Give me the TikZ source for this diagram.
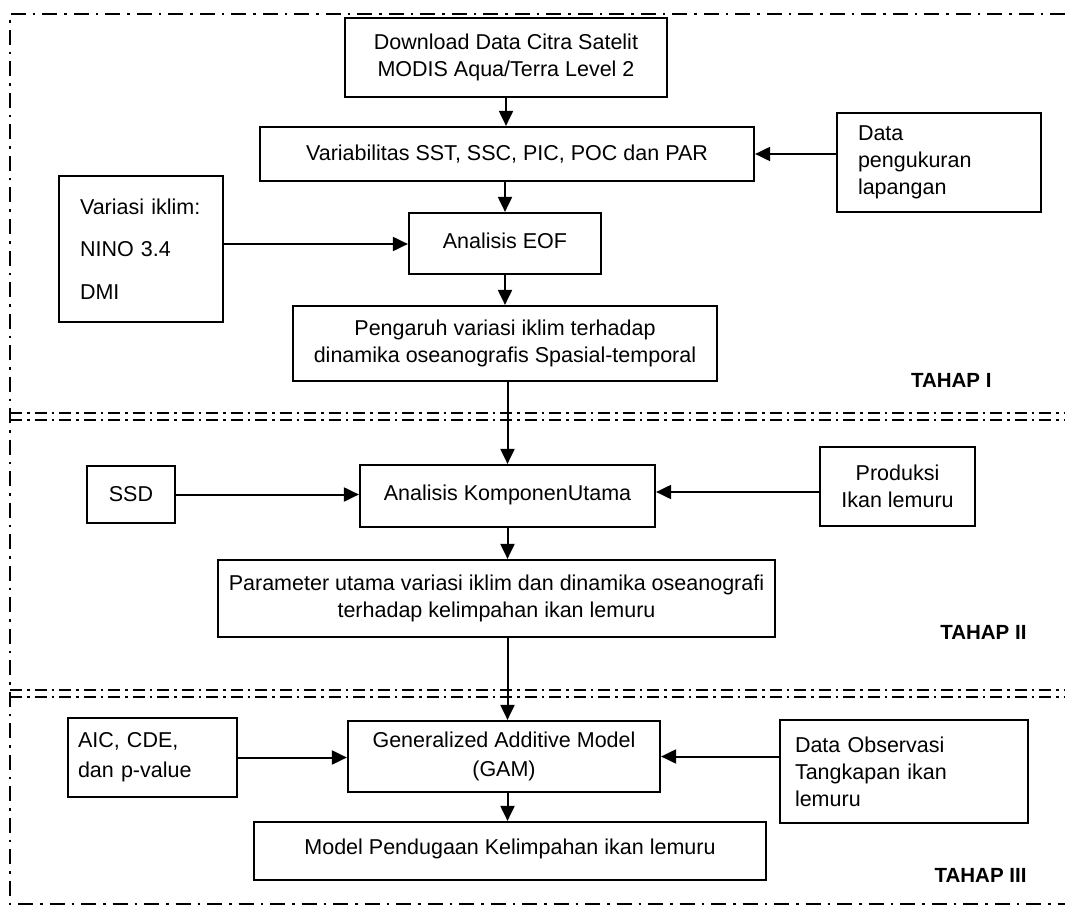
\documentclass[tikz,border=0pt]{standalone}
\usepackage{fontspec}
\setmainfont{Liberation Sans}
\usetikzlibrary{arrows.meta}
\begin{document}
\begin{tikzpicture}[x=1pt,y=-1pt,
  box/.style={draw, line width=2.2pt, rectangle, inner sep=0pt, font=\fontsize{21.5}{27}\selectfont, align=center},
  arr/.style={line width=2pt, -{Triangle[length=15pt,width=14pt]}},
  borderline/.style={line width=2pt, dash pattern=on 15pt off 7pt on 2.5pt off 7pt},
  sepline/.style={line width=1.8pt, dash pattern=on 12pt off 5pt on 2.5pt off 5pt},
  tahap/.style={font=\fontsize{20.5}{24}\selectfont\bfseries}]
\useasboundingbox (0,0) rectangle (1065,912);

% frame and separators
\coordinate (fTL) at (10,14);
\coordinate (fBL) at (10,904);
\coordinate (fTR) at (1065,14);
\coordinate (fBR) at (1065,904);
\draw[borderline] (fTR) -- (fTL) -- (fBL) -- (fBR);
\coordinate (s1a) at (10,413); \coordinate (s1b) at (1065,413);
\coordinate (s1c) at (10,420); \coordinate (s1d) at (1065,420);
\coordinate (s2a) at (10,690); \coordinate (s2b) at (1065,690);
\coordinate (s2c) at (10,697); \coordinate (s2d) at (1065,697);
\draw[sepline] (s1a) -- (s1b);
\draw[sepline] (s1c) -- (s1d);
\draw[sepline] (s2a) -- (s2b);
\draw[sepline] (s2c) -- (s2d);

% TAHAP I
\node[box, minimum width=322pt, minimum height=79pt] (dl) at (506,57.5) {\raisebox{2pt}{\begin{tabular}{@{}c@{}}Download Data Citra Satelit\\MODIS Aqua/Terra Level 2\end{tabular}}};
\node[box, minimum width=494pt, minimum height=54pt] (var) at (507,154) {Variabilitas SST, SSC, PIC, POC dan PAR};
\node[box, minimum width=204pt, minimum height=99pt, text width=162pt, align=left] (dp) at (939,162.5) {Data\\pengukuran\\lapangan};
\node[box, minimum width=164pt, minimum height=146pt, text width=122pt, align=left] (vi) at (141,249) {Variasi iklim:\\[15.5pt]NINO 3.4\\[15.5pt]DMI};
\node[box, minimum width=192pt, minimum height=61pt] (eof) at (505,243.5) {\raisebox{6pt}{Analisis EOF}};
\node[box, minimum width=424pt, minimum height=75pt] (pg) at (505,343.5) {Pengaruh variasi iklim terhadap\\dinamika oseanografis Spasial-temporal};
\node[tahap, anchor=east] (t1) at (995,380) {TAHAP I};

% TAHAP II
\node[box, minimum width=88pt, minimum height=57pt] (ssd) at (131,494.5) {SSD};
\node[box, minimum width=295pt, minimum height=62pt] (ak) at (507.5,496) {\raisebox{7pt}{Analisis KomponenUtama}};
\node[box, minimum width=155pt, minimum height=79pt] (pr) at (897.5,486.5) {Produksi\\Ikan lemuru};
\node[box, minimum width=557pt, minimum height=77pt] (pm) at (496.5,598.5) {Parameter utama variasi iklim dan dinamika oseanografi\\terhadap kelimpahan ikan lemuru};
\node[tahap, anchor=east] (t2) at (1030,632) {TAHAP II};

% TAHAP III
\node[box, minimum width=169pt, minimum height=79pt, text width=149pt, align=left] (aic) at (152.5,757.5) {AIC, CDE,\\[3pt]dan p-value};
\node[box, minimum width=312pt, minimum height=71pt] (gam) at (504,756.5) {Generalized Additive Model\\[2pt](GAM)};
\node[box, minimum width=248pt, minimum height=103pt, text width=218pt, align=left] (obs) at (904,771.5) {Data Observasi\\Tangkapan ikan\\lemuru};
\node[box, minimum width=512pt, minimum height=58pt] (mdl) at (510,851) {\raisebox{8pt}{Model Pendugaan Kelimpahan ikan lemuru}};
\node[tahap, anchor=east] (t3) at (1030,875) {TAHAP III};

% vertical arrows
\draw[arr] (dl.south) -- (dl.south |- var.north);
\draw[arr] (var.south -| eof.north) -- (eof.north);
\draw[arr] (eof.south) -- (eof.south |- pg.north);
\draw[arr] (pg.south -| ak.north) -- (ak.north);
\draw[arr] (ak.south) -- (ak.south |- pm.north);
\draw[arr] (pm.south -| ak.south) -- (gam.north -| ak.south);
\draw[arr] (gam.south -| ak.south) -- (mdl.north -| ak.south);

% horizontal arrows
\draw[arr] ([yshift=5pt]vi.east) -- ([yshift=5pt]vi.east -| eof.west);
\draw[arr] (dp.west |- var.east) -- (var.east);
\draw[arr] (ssd.east) -- (ssd.east -| ak.west);
\draw[arr] ([yshift=4pt]pr.west |- ak.east) -- ([yshift=4pt]ak.east);
\draw[arr] (aic.east) -- (aic.east -| gam.west);
\draw[arr] (obs.west |- gam.east) -- (gam.east);
\end{tikzpicture}
\end{document}
